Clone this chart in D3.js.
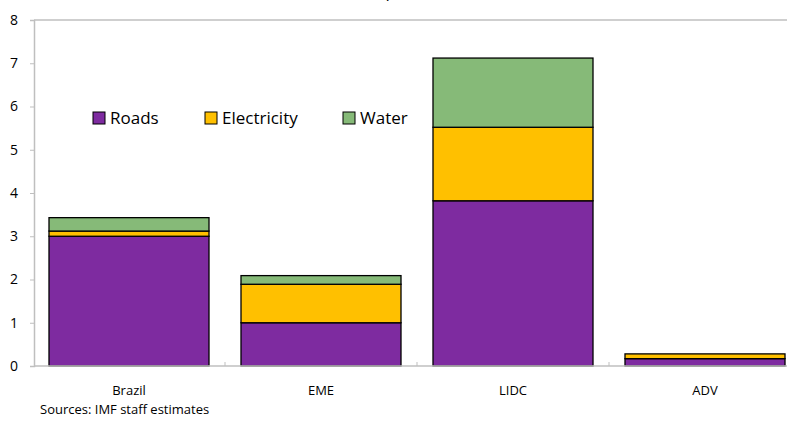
<!DOCTYPE html>
<html>
<head>
<meta charset="utf-8">
<script src="https://cdn.jsdelivr.net/npm/d3@7"></script>
<style>
    body { margin: 0; background: #fff; }
    svg text { font-family: "Open Sans", "Noto Sans", sans-serif; fill: #000; }
</style>
</head>
<body>
<div id="chart"></div>
<script>
// data
const categories = ["Brazil", "EME", "LIDC", "ADV"];
const seriesNames = ["Roads", "Electricity", "Water"];
const roads = [3.0, 1.0, 3.82, 0.17];
const electricity = [0.12, 0.89, 1.7, 0.11];
const water = [0.31, 0.2, 1.6, 0.0];
const yTicks = [0, 1, 2, 3, 4, 5, 6, 7, 8];
const colors = ["#7E2BA0", "#FFC000", "#86BA78"];

const width = 787, height = 421;

let svg = d3.select("#chart").append("svg")
    .attr("width", width)
    .attr("height", height);

// scales
let x = d3.scaleBand()
    .domain(categories)
    .range([33, 801])
    .paddingInner(1 / 6)
    .paddingOuter(1 / 12);

let y = d3.scaleLinear()
    .domain([0, 8])
    .range([366, 20]);

// subtitle, cut off by the top edge as in the source
svg.append("text")
    .attr("x", 404)
    .attr("y", -3)
    .attr("text-anchor", "middle")
    .attr("textLength", 212)
    .style("font-size", "17px")
    .text("(Annual, in percent of GDP)");

// frame top line
svg.append("line")
    .attr("x1", 34).attr("x2", width)
    .attr("y1", y(8)).attr("y2", y(8))
    .attr("stroke", "#bfbfbf").attr("stroke-width", 1.5);

// stacked data
let rows = categories.map((c, i) => ({ cat: c, Roads: roads[i], Electricity: electricity[i], Water: water[i] }));
let stacked = d3.stack().keys(seriesNames)(rows);

svg.append("g").selectAll("g")
    .data(stacked)
    .enter()
    .append("g")
    .attr("fill", (d, i) => colors[i])
    .selectAll("rect")
    .data(d => d.filter(s => s[1] - s[0] > 0))
    .enter()
    .append("rect")
    .attr("x", d => x(d.data.cat))
    .attr("width", x.bandwidth())
    .attr("y", d => y(d[1]))
    .attr("height", d => y(d[0]) - y(d[1]))
    .attr("stroke", "#000")
    .attr("stroke-width", 1.3);

// y axis
let yAxis = d3.axisLeft(y).tickValues(yTicks).tickSize(4).tickPadding(12).tickFormat(d3.format("d"));
let yG = svg.append("g")
    .attr("transform", "translate(34,0)")
    .call(yAxis);
yG.select(".domain").attr("stroke", "#bfbfbf").attr("stroke-width", 1.5);
yG.selectAll(".tick line").attr("stroke", "#bfbfbf");
yG.selectAll(".tick text").style("font-size", "14px").attr("text-anchor", "middle").attr("x", -20);

// x axis
svg.append("line")
    .attr("x1", 34).attr("x2", width)
    .attr("y1", y(0)).attr("y2", y(0))
    .attr("stroke", "#bfbfbf").attr("stroke-width", 1.5);

svg.append("g").selectAll("line")
    .data(categories.slice(1))
    .enter()
    .append("line")
    .attr("x1", d => x(d) - x.step() * x.paddingInner() / 2)
    .attr("x2", d => x(d) - x.step() * x.paddingInner() / 2)
    .attr("y1", y(0)).attr("y2", y(0) - 4)
    .attr("stroke", "#bfbfbf");

svg.append("g").selectAll("text")
    .data(categories)
    .enter()
    .append("text")
    .attr("x", d => x(d) + x.bandwidth() / 2)
    .attr("y", 395)
    .attr("text-anchor", "middle")
    .style("font-size", "13px")
    .text(d => d);

// legend
let legendX = [93, 205, 343];
let legend = svg.append("g").selectAll("g")
    .data(seriesNames)
    .enter()
    .append("g")
    .attr("transform", (d, i) => `translate(${legendX[i]},112)`);
legend.append("rect")
    .attr("width", 12).attr("height", 12)
    .attr("fill", (d, i) => colors[i])
    .attr("stroke", "#000").attr("stroke-width", 1);
legend.append("text")
    .attr("x", 17).attr("y", 12)
    .style("font-size", "17px")
    .text(d => d);

// source note
svg.append("text")
    .attr("x", 40).attr("y", 414)
    .style("font-size", "13px")
    .text("Sources: IMF staff estimates");
</script>
</body>
</html>
